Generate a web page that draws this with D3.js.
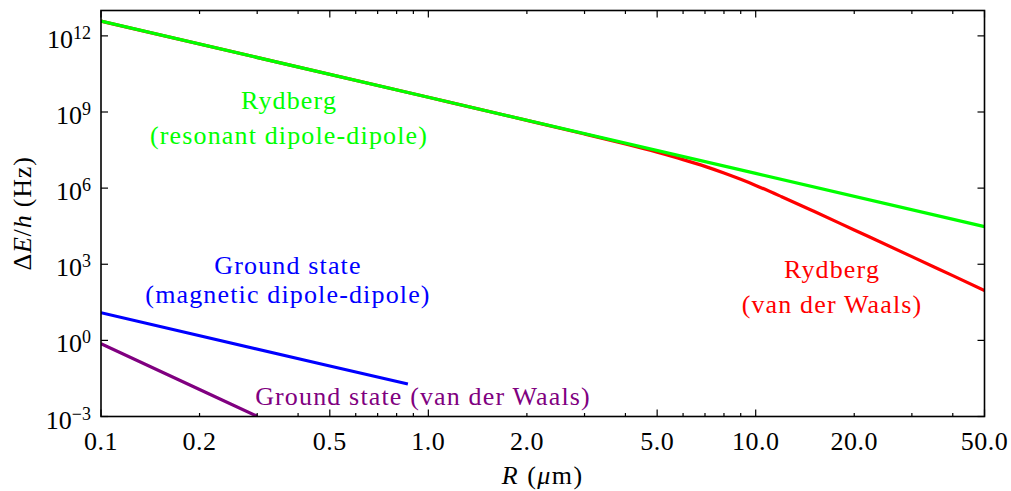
<!DOCTYPE html>
<html>
<head>
<meta charset="utf-8">
<script src="https://cdn.jsdelivr.net/npm/d3@7"></script>
<style>
  html, body { margin: 0; padding: 0; background: #fff; }
  svg { display: block; }
</style>
</head>
<body>
<div id="chart"></div>
<script>
// ---------------- data ----------------
const xTickValues = [0.1, 0.2, 0.5, 1, 2, 5, 10, 20, 50];
const xTickLabels = ["0.1", "0.2", "0.5", "1.0", "2.0", "5.0", "10.0", "20.0", "50.0"];
const xMajorTicks = [0.1, 0.5, 1, 5, 10, 50];
const xMinorTicks = [0.2, 0.3, 0.4, 0.6, 0.7, 0.8, 0.9, 2, 3, 4, 6, 7, 8, 9, 20, 30, 40];
const yTickExponents = [-3, 0, 3, 6, 9, 12];

// Rydberg, resonant dipole-dipole (green)
const rydResR = [0.1, 1, 10, 50];
const rydResE = [3.8e12, 3.8e9, 3.8e6, 3.04e4];

// Rydberg, van der Waals (red)
const rydVdwR = [0.1, 1, 2, 3, 4, 5, 6, 7, 8, 9, 10, 12, 15, 20, 30, 40, 50];
const rydVdwE = [3.8e12, 3.8e9, 4.68e8, 1.36e8, 5.46e7, 2.58e7, 1.33e7, 7.2e6, 3.95e6, 2.22e6, 1.28e6, 4.6e5, 1.25e5, 2.25e4, 2.0e3, 355, 93];

// Ground state, magnetic dipole-dipole (blue)
const gsMagR = [0.1, 0.5, 0.866];
const gsMagE = [12.3, 0.098, 0.019];

// Ground state, van der Waals (purple)
const gsVdwR = [0.1, 0.2, 0.3];
const gsVdwE = [0.74, 0.0116, 0.00102];

// ---------------- layout ----------------
const W = 1011, H = 491;
const pL = 101, pR = 984.5, pT = 10.5, pB = 416.5;
const FS = 26;
const FONT = "'Liberation Serif', 'Times New Roman', Times, serif";

const svg = d3.select("#chart").append("svg")
  .attr("width", W).attr("height", H)
  .attr("font-family", FONT)
  .style("font-family", FONT);

const x = d3.scaleLog().domain([0.1, 50]).range([pL, pR]);
const y = d3.scaleLog().domain([1e-3, 1e13]).range([pB, pT]);

svg.append("defs").append("clipPath").attr("id", "clip")
  .append("rect").attr("x", pL).attr("y", pT)
  .attr("width", pR - pL).attr("height", pB - pT);

const plot = svg.append("g").attr("clip-path", "url(#clip)");

const line = d3.line().x(d => x(d[0])).y(d => y(d[1]));
const lineSmooth = d3.line().x(d => x(d[0])).y(d => y(d[1])).curve(d3.curveMonotoneX);

function zip(a, b) { return a.map((v, i) => [v, b[i]]); }

plot.append("path").datum(zip(rydVdwR, rydVdwE))
  .attr("d", lineSmooth).attr("fill", "none").attr("stroke", "#ff0000").attr("stroke-width", 3.2);
plot.append("path").datum(zip(rydResR, rydResE))
  .attr("d", line).attr("fill", "none").attr("stroke", "#00ff00").attr("stroke-width", 3.2);
plot.append("path").datum(zip(gsMagR, gsMagE))
  .attr("d", line).attr("fill", "none").attr("stroke", "#0000ff").attr("stroke-width", 3.2);
plot.append("path").datum(zip(gsVdwR, gsVdwE))
  .attr("d", line).attr("fill", "none").attr("stroke", "#800080").attr("stroke-width", 3.2);

// ---------------- axes / ticks ----------------
const axes = svg.append("g");
const majLen = 7, minLen = 3.5;

function xTicks(vals, len) {
  vals.forEach(v => {
    axes.append("line").attr("x1", x(v)).attr("x2", x(v))
      .attr("y1", pB).attr("y2", pB - len)
      .attr("stroke", "#000").attr("stroke-width", 1.2);
    axes.append("line").attr("x1", x(v)).attr("x2", x(v))
      .attr("y1", pT).attr("y2", pT + len)
      .attr("stroke", "#000").attr("stroke-width", 1.2);
  });
}
xTicks(xMajorTicks, majLen);
xTicks(xMinorTicks, minLen);

yTickExponents.forEach(e => {
  const yy = y(Math.pow(10, e));
  axes.append("line").attr("x1", pL).attr("x2", pL + majLen)
    .attr("y1", yy).attr("y2", yy).attr("stroke", "#000").attr("stroke-width", 1.2);
  axes.append("line").attr("x1", pR).attr("x2", pR - majLen)
    .attr("y1", yy).attr("y2", yy).attr("stroke", "#000").attr("stroke-width", 1.2);
  const t = axes.append("text").attr("x", 91).attr("y", yy + 12)
    .attr("text-anchor", "end").attr("font-size", FS).attr("fill", "#000");
  t.append("tspan").text("10");
  t.append("tspan").attr("dy", -9).attr("font-size", 18)
    .text(e < 0 ? "\u2212" + Math.abs(e) : String(e));
});

xTickValues.forEach((v, i) => {
  axes.append("text").attr("x", x(v)).attr("y", 450)
    .attr("text-anchor", "middle").attr("font-size", FS).attr("fill", "#000")
    .attr("letter-spacing", 0.5)
    .text(xTickLabels[i]);
});

// frame
axes.append("rect").attr("x", pL).attr("y", pT)
  .attr("width", pR - pL).attr("height", pB - pT)
  .attr("fill", "none").attr("stroke", "#000").attr("stroke-width", 1.6);

// axis titles
const xl = svg.append("text").attr("x", (pL + pR) / 2).attr("y", 484)
  .attr("text-anchor", "middle").attr("font-size", FS).attr("fill", "#000")
  .attr("letter-spacing", 1.5);
xl.append("tspan").attr("font-style", "italic").text("R");
xl.append("tspan").text(" (");
xl.append("tspan").attr("font-style", "italic").text("\u03bc");
xl.append("tspan").text("m)");

const yl = svg.append("text")
  .attr("transform", `translate(31,${(pT + pB) / 2}) rotate(-90)`)
  .attr("text-anchor", "middle").attr("font-size", FS).attr("fill", "#000")
  .attr("letter-spacing", 0.8);
yl.append("tspan").text("\u0394");
yl.append("tspan").attr("font-style", "italic").text("E");
yl.append("tspan").text("/");
yl.append("tspan").attr("font-style", "italic").text("h");
yl.append("tspan").text(" (Hz)");

// ---------------- annotations ----------------
const notes = [
  { lines: ["Rydberg", "(resonant dipole-dipole)"], x: 289, y: [109, 144], color: "#00ff00" },
  { lines: ["Ground state", "(magnetic dipole-dipole)"], x: 288, y: [274, 303], color: "#0000ff" },
  { lines: ["Ground state (van der Waals)"], x: 423, y: [405], color: "#800080" },
  { lines: ["Rydberg", "(van der Waals)"], x: 832, y: [278, 313], color: "#ff0000" }
];
notes.forEach(n => {
  n.lines.forEach((s, i) => {
    svg.append("text").attr("x", n.x).attr("y", n.y[i])
      .attr("text-anchor", "middle").attr("font-size", FS)
      .attr("letter-spacing", 1.15).attr("fill", n.color).text(s);
  });
});
</script>
</body>
</html>
